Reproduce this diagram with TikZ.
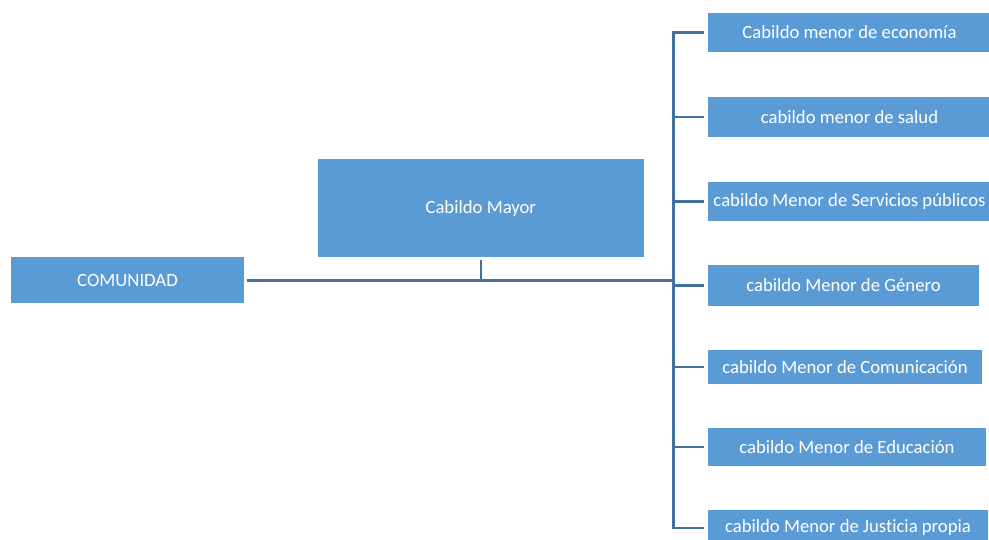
\documentclass[tikz,border=0pt]{standalone}
\usepackage{fontspec}
\setmainfont{Carlito}[Ligatures=NoCommon]

\definecolor{boxblue}{HTML}{5B9BD5}
\definecolor{lineblue}{HTML}{41719C}

\tikzset{
    unit/.style={fill=boxblue, text=white, inner sep=0pt,
        font=\fontsize{18.7}{22}\selectfont},
    link/.style={lineblue, line width=2.8pt},
}

\begin{document}
\begin{tikzpicture}[x=1pt,y=-1pt]

    \useasboundingbox (0,0) rectangle (989,540);

    % Community and main council
    \node[unit, minimum width=233.6pt, minimum height=45.8pt] (com) at (127.5,280.4) {COMUNIDAD};
    \node[unit, minimum width=326.3pt, minimum height=98pt] (mayor) at (480.8,208.3) {Cabildo Mayor};

    % Minor councils
    \node[unit, minimum width=283pt, minimum height=39pt] (economia) at (849.5,32.5) {Cabildo menor de economía};
    \node[unit, minimum width=283pt, minimum height=40pt] (salud) at (849.5,117) {cabildo menor de salud};
    \node[unit, minimum width=283pt, minimum height=39pt] (servicios) at (849.5,201.5) {cabildo Menor de Servicios públicos};
    \node[unit, minimum width=271pt, minimum height=41pt] (genero) at (843.5,285.5) {cabildo Menor de Género};
    \node[unit, minimum width=274pt, minimum height=34pt] (comunicacion) at (845,367) {cabildo Menor de Comunicación};
    \node[unit, minimum width=278pt, minimum height=38pt] (educacion) at (847,447) {cabildo Menor de Educación};
    \node[unit, minimum width=280pt, minimum height=36pt] (justicia) at (848,528) {cabildo Menor de Justicia propia};

    % Main line
    \coordinate (trunk) at (673.5,280.4);
    \draw[link] ([xshift=2.5pt]com.east) -- (trunk);
    \draw[link, line width=2pt] ([yshift=-3pt]mayor.south) -- (mayor.south |- trunk);

    % Trunk with top and bottom branches
    \draw[link] ([xshift=-4pt]economia.west) -| (trunk) |- ([xshift=-4pt]justicia.west);

    % Other branches
    \foreach \n in {salud,servicios,genero,comunicacion,educacion}
        \draw[link] (trunk |- \n.west) -- ([xshift=-4pt]\n.west);

\end{tikzpicture}
\end{document}
